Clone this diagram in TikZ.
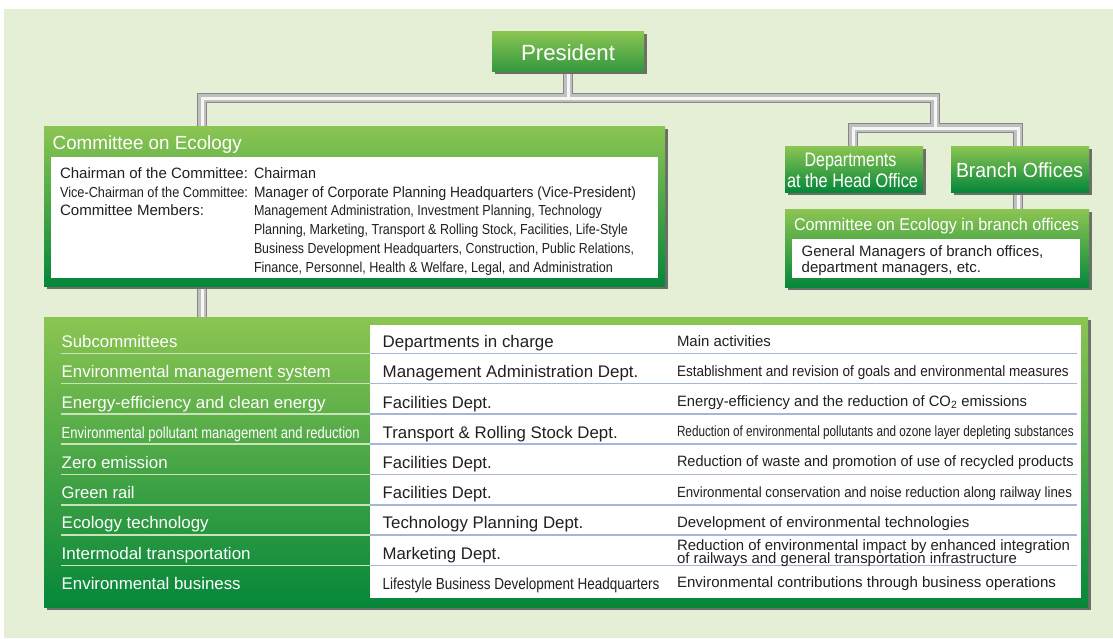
\documentclass[tikz,border=0pt]{standalone}
\usepackage{fontspec}
\setmainfont{Liberation Sans}
\usepackage{graphicx}
\usetikzlibrary{shadows}
\pgfdeclarelayer{bg}
\pgfdeclarelayer{pipes}
\pgfsetlayers{bg,pipes,main}
\definecolor{bgc}{RGB}{228,239,214}
\definecolor{gtop}{RGB}{140,197,82}
\definecolor{gbot}{RGB}{5,135,58}
\definecolor{gbotp}{RGB}{52,152,64}
\definecolor{shd}{RGB}{108,110,104}
\definecolor{txtc}{RGB}{35,31,32}
\definecolor{sepg}{RGB}{200,226,186}
\definecolor{sepb}{RGB}{164,183,214}
\definecolor{pipeo}{RGB}{135,135,135}
\definecolor{pipem}{RGB}{192,192,192}
\definecolor{pipei}{RGB}{246,246,246}
\newcommand\fw[3]{{\fontsize{#1pt}{#1pt}\selectfont\resizebox{#2pt}{\height}{#3}}}
\newcommand\pipes[1]{%
  \draw[line width=10.5pt, pipeo] #1;
  \draw[line width=7.5pt, pipem] #1;
  \draw[line width=3pt, pipei] #1;}
\tikzset{
  gbox/.style={shade, top color=gtop, bottom color=gbot, draw=none, inner sep=0pt, outer sep=0pt,
    general shadow={fill=shd, shadow xshift=3pt, shadow yshift=-3pt}},
  wbox/.style={fill=white, draw=none, inner sep=0pt, outer sep=0pt},
  tx/.style={inner sep=0pt, outer sep=0pt, anchor=base west, text=txtc},
  wt/.style={tx, text=white},
  sepline/.style={line width=1.5pt}
}
\begin{document}
\begin{tikzpicture}[x=1pt,y=-1pt]
\useasboundingbox (0,0) rectangle (1113,638);
\begin{pgfonlayer}{bg}
\fill[bgc] (4,9) rectangle (1113,638);
\end{pgfonlayer}

% boxes
\node[gbox, bottom color=gbotp, minimum width=152pt, minimum height=40pt] (pres) at (568,51) {};
\node[gbox, minimum width=621pt, minimum height=160pt] (coe) at (354.5,206) {};
\node[wbox, minimum width=607pt, minimum height=121pt] (coeW) at (354.5,217.5) {};
\node[gbox, minimum width=138pt, minimum height=46pt] (dept) at (854,169) {};
\node[gbox, minimum width=138pt, minimum height=46pt] (branch) at (1020,169) {};
\node[gbox, minimum width=304pt, minimum height=78pt] (bcoe) at (937,248) {};
\node[wbox, minimum width=288pt, minimum height=39pt] (bcoeW) at (936,258.5) {};
\node[gbox, minimum width=1044pt, minimum height=290pt] (tab) at (566,462) {};
\node[wbox, minimum width=711pt, minimum height=273pt] (tabW) at (725.5,461.5) {};

% pipes
\coordinate (barL) at (202,98);
\coordinate (barR) at (935,98);
\coordinate (sbarL) at (853,128);
\coordinate (sbarR) at (1018,128);
\begin{pgfonlayer}{pipes}
\pipes{(pres.south) -- (pres.south |- barL)
  (coe.north -| barL) -- (barL) -- (barR) -- (barR |- sbarL)
  (dept.north -| sbarL) -- (sbarL) -- (sbarR) -- (sbarR |- branch.north)
  (branch.south -| sbarR) -- (sbarR |- bcoe.north)
  (coe.south -| barL) -- (barL |- tab.north)}
\end{pgfonlayer}

% top texts
\node[wt, anchor=base] (presT) at (568,60) {\fw{22}{94}{President}};
\node[wt, anchor=base] (deptT1) at (850.5,166.7) {\fw{19.5}{92}{Departments}};
\node[wt, anchor=base] (deptT2) at (852.5,187.3) {\fw{19.5}{131}{at the Head Office}};
\node[wt, anchor=base] (branchT) at (1019.5,177.3) {\fw{20.5}{127}{Branch Offices}};
\node[wt] (bcoeT) at (794,230.7) {\fw{17}{285}{Committee on Ecology in branch offices}};
\node[tx] (bcoeL1) at (801.7,256.7) {\fw{15}{241.7}{General Managers of branch offices,}};
\node[tx] (bcoeL2) at (801.7,272.7) {\fw{15}{179.3}{department managers, etc.}};

% committee on ecology
\node[wt] (coeT) at (52.7,149.3) {\fw{19}{189}{Committee on Ecology}};
\node[tx] (c1a) at (60,178.3) {\fw{15}{188}{Chairman of the Committee:}};
\node[tx] (c2a) at (60,197.1) {\fw{14.5}{188}{Vice-Chairman of the Committee:}};
\node[tx] (c3a) at (60,215.9) {\fw{15}{144}{Committee Members:}};
\node[tx] (c1b) at (254,178.3) {\fw{15}{62}{Chairman}};
\node[tx] (c2b) at (254,197.1) {\fw{15}{382}{Manager of Corporate Planning Headquarters (Vice-President)}};
\node[tx] (c3b) at (254,215.9) {\fw{14.5}{348}{Management Administration, Investment Planning, Technology}};
\node[tx] (c4b) at (254,234.7) {\fw{14.5}{374}{Planning, Marketing, Transport \& Rolling Stock, Facilities, Life-Style}};
\node[tx] (c5b) at (254,253.5) {\fw{14.5}{380}{Business Development Headquarters, Construction, Public Relations,}};
\node[tx] (c6b) at (254,272.3) {\fw{14.5}{359}{Finance, Personnel, Health \& Welfare, Legal, and Administration}};

% table separators
\foreach \yy in {353.3,383.6,413.9,444.2,474.5,504.8,535.1,565.4}{
  \draw[sepline, sepg] (61,\yy) -- (370,\yy);
  \draw[sepline, sepb] (370,\yy) -- (1077,\yy);
}

% column 1
\node[wt] (r1a) at (61.7,347.7) {\fw{16.8}{115.7}{Subcommittees}};
\node[wt] (r2a) at (61.7,377.9) {\fw{16.8}{269}{Environmental management system}};
\node[wt] (r3a) at (61.7,408.1) {\fw{16.8}{264}{Energy-efficiency and clean energy}};
\node[wt] (r4a) at (61.7,438.3) {\fw{16}{298}{Environmental pollutant management and reduction}};
\node[wt] (r5a) at (61.7,468.5) {\fw{16.8}{106}{Zero emission}};
\node[wt] (r6a) at (61.7,498.7) {\fw{16.8}{73}{Green rail}};
\node[wt] (r7a) at (61.7,528.9) {\fw{16.8}{147}{Ecology technology}};
\node[wt] (r8a) at (61.7,559.1) {\fw{16.8}{189}{Intermodal transportation}};
\node[wt] (r9a) at (61.7,589.3) {\fw{16.8}{179}{Environmental business}};

% column 2
\node[tx] (r1b) at (382.7,347.7) {\fw{16.8}{171}{Departments in charge}};
\node[tx] (r2b) at (382.7,377.9) {\fw{16.8}{255.7}{Management Administration Dept.}};
\node[tx] (r3b) at (382.7,408.1) {\fw{16.8}{109}{Facilities Dept.}};
\node[tx] (r4b) at (382.7,438.3) {\fw{16.8}{235}{Transport \& Rolling Stock Dept.}};
\node[tx] (r5b) at (382.7,468.5) {\fw{16.8}{109}{Facilities Dept.}};
\node[tx] (r6b) at (382.7,498.7) {\fw{16.8}{109}{Facilities Dept.}};
\node[tx] (r7b) at (382.7,528.9) {\fw{16.8}{200.7}{Technology Planning Dept.}};
\node[tx] (r8b) at (382.7,559.1) {\fw{16.8}{118.3}{Marketing Dept.}};
\node[tx] (r9b) at (382.7,589.3) {\fw{16}{276.7}{Lifestyle Business Development Headquarters}};

% column 3
\node[tx] (r1c) at (677,346) {\fw{15}{94}{Main activities}};
\node[tx] (r2c) at (677,376.2) {\fw{15}{391.7}{Establishment and revision of goals and environmental measures}};
\node[tx] (r3c) at (677,406.4) {\fw{15}{350}{Energy-efficiency and the reduction of CO\textsubscript{2} emissions}};
\node[tx] (r4c) at (677,436.6) {\fw{14.8}{396.7}{Reduction of environmental pollutants and ozone layer depleting substances}};
\node[tx] (r5c) at (677,466.8) {\fw{15}{396.7}{Reduction of waste and promotion of use of recycled products}};
\node[tx] (r6c) at (677,497) {\fw{14.8}{395}{Environmental conservation and noise reduction along railway lines}};
\node[tx] (r7c) at (677,527.2) {\fw{15}{292.3}{Development of environmental technologies}};
\node[tx] (r8c1) at (677,550.5) {\fw{15}{393}{Reduction of environmental impact by enhanced integration}};
\node[tx] (r8c2) at (677,563.5) {\fw{15}{340}{of railways and general transportation infrastructure}};
\node[tx] (r9c) at (677,587.6) {\fw{15}{379}{Environmental contributions through business operations}};
\end{tikzpicture}
\end{document}
